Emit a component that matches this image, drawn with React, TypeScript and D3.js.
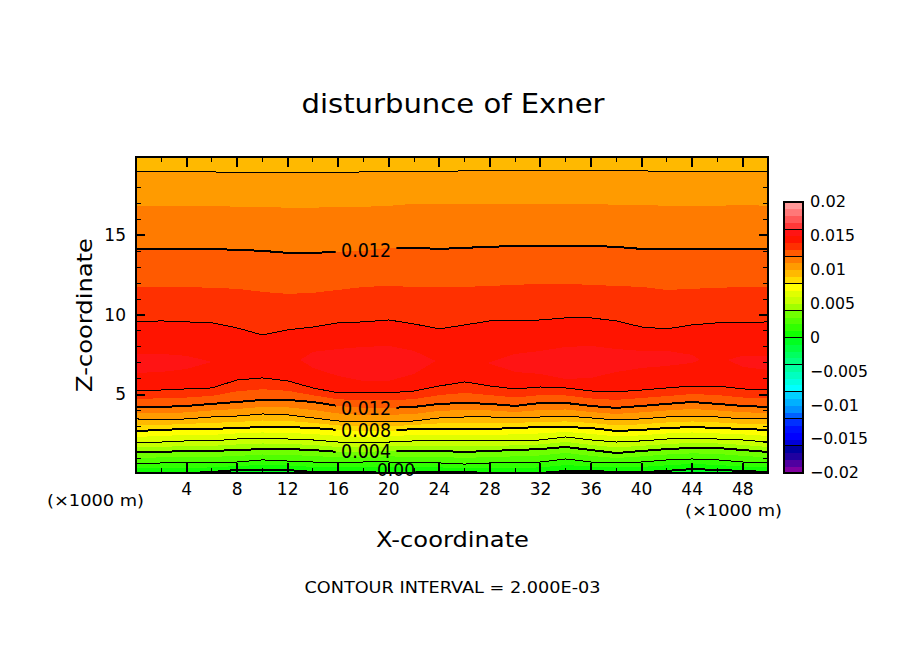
// App.tsx
import React from 'react';
import * as d3 from 'd3';

const xStations = [0, 2, 4, 6, 8, 10, 12, 14, 16, 18, 20, 22, 24, 26, 28, 30, 32, 34, 36, 38, 40, 42, 44, 46, 48, 50];

// contour heights below the Exner maximum (z, in 1000 m)
const low000 = [0.10, 0.10, 0.10, 0.16, 0.29, 0.29, 0.29, 0.16, 0.16, 0.16, 0.16, 0.16, 0.16, 0.16, 0.10, 0.10, 0.10, 0.23, 0.23, 0.16, 0.16, 0.23, 0.35, 0.29, 0.23, 0.16];
const low001 = [0.38, 0.42, 0.42, 0.45, 0.54, 0.60, 0.57, 0.48, 0.45, 0.48, 0.48, 0.45, 0.45, 0.41, 0.42, 0.42, 0.45, 0.60, 0.51, 0.45, 0.48, 0.58, 0.67, 0.60, 0.51, 0.45];
const low002 = [0.66, 0.73, 0.73, 0.73, 0.79, 0.92, 0.85, 0.79, 0.73, 0.79, 0.79, 0.73, 0.73, 0.66, 0.73, 0.73, 0.79, 0.98, 0.79, 0.73, 0.79, 0.92, 0.98, 0.92, 0.79, 0.73];
const low003 = [1.04, 1.08, 1.11, 1.11, 1.17, 1.26, 1.23, 1.17, 1.08, 1.11, 1.14, 1.11, 1.11, 1.04, 1.11, 1.14, 1.20, 1.36, 1.17, 1.04, 1.14, 1.26, 1.33, 1.30, 1.17, 1.08];
const low004 = [1.42, 1.42, 1.48, 1.48, 1.54, 1.60, 1.60, 1.54, 1.42, 1.42, 1.48, 1.48, 1.48, 1.42, 1.48, 1.54, 1.60, 1.73, 1.54, 1.35, 1.48, 1.60, 1.67, 1.67, 1.54, 1.42];
const low005 = [1.70, 1.73, 1.80, 1.80, 1.89, 1.95, 1.92, 1.86, 1.73, 1.70, 1.76, 1.80, 1.80, 1.77, 1.80, 1.83, 1.89, 2.05, 1.86, 1.70, 1.80, 1.92, 1.98, 1.95, 1.86, 1.73];
const low006 = [1.98, 2.04, 2.11, 2.11, 2.23, 2.29, 2.23, 2.17, 2.04, 1.98, 2.04, 2.11, 2.11, 2.11, 2.11, 2.11, 2.17, 2.36, 2.17, 2.04, 2.11, 2.23, 2.29, 2.23, 2.17, 2.04];
const low007 = [2.36, 2.42, 2.49, 2.49, 2.58, 2.64, 2.60, 2.55, 2.42, 2.36, 2.39, 2.49, 2.49, 2.49, 2.49, 2.52, 2.58, 2.67, 2.55, 2.39, 2.46, 2.58, 2.64, 2.58, 2.52, 2.42];
const low008 = [2.73, 2.80, 2.86, 2.86, 2.92, 2.98, 2.98, 2.92, 2.80, 2.73, 2.73, 2.86, 2.86, 2.86, 2.86, 2.92, 2.98, 2.98, 2.92, 2.73, 2.80, 2.92, 2.98, 2.92, 2.86, 2.80];
const low009 = [3.11, 3.11, 3.18, 3.24, 3.30, 3.39, 3.36, 3.24, 3.08, 3.02, 3.02, 3.11, 3.21, 3.24, 3.24, 3.24, 3.30, 3.33, 3.24, 3.08, 3.15, 3.27, 3.33, 3.27, 3.18, 3.15];
const low010 = [3.49, 3.42, 3.49, 3.61, 3.67, 3.80, 3.74, 3.55, 3.36, 3.30, 3.30, 3.36, 3.55, 3.61, 3.61, 3.55, 3.61, 3.67, 3.55, 3.42, 3.49, 3.61, 3.67, 3.61, 3.49, 3.49];
const low011 = [3.87, 3.83, 3.90, 4.02, 4.11, 4.24, 4.21, 4.05, 3.83, 3.74, 3.74, 3.80, 3.99, 4.05, 4.02, 3.92, 4.05, 4.08, 3.92, 3.80, 3.90, 4.02, 4.11, 4.02, 3.90, 3.87];
const low012 = [4.24, 4.24, 4.30, 4.43, 4.55, 4.68, 4.68, 4.55, 4.30, 4.18, 4.18, 4.24, 4.43, 4.49, 4.43, 4.30, 4.49, 4.49, 4.30, 4.18, 4.30, 4.43, 4.55, 4.43, 4.30, 4.24];
const low013 = [4.74, 4.78, 4.83, 4.93, 5.22, 5.35, 5.25, 4.97, 4.72, 4.65, 4.65, 4.73, 4.98, 5.12, 4.98, 4.83, 4.98, 4.96, 4.77, 4.68, 4.80, 4.92, 5.05, 4.98, 4.83, 4.77];
const low014 = [5.24, 5.30, 5.37, 5.43, 5.93, 6.06, 5.87, 5.43, 5.12, 5.12, 5.12, 5.24, 5.55, 5.81, 5.55, 5.37, 5.49, 5.43, 5.24, 5.18, 5.30, 5.43, 5.55, 5.55, 5.37, 5.30];

// contour heights above the maximum
const up014 = [9.57, 9.63, 9.57, 9.51, 9.19, 8.75, 9.07, 9.25, 9.51, 9.57, 9.69, 9.44, 9.13, 9.38, 9.63, 9.63, 9.69, 9.82, 9.82, 9.63, 9.25, 9.13, 9.38, 9.51, 9.51, 9.57];
const up013 = [11.76, 11.76, 11.76, 11.70, 11.64, 11.45, 11.32, 11.39, 11.57, 11.76, 11.82, 11.76, 11.76, 11.76, 11.82, 11.89, 11.95, 11.95, 11.89, 11.82, 11.76, 11.57, 11.64, 11.70, 11.76, 11.76];
const up012 = [14.14, 14.14, 14.14, 14.14, 14.08, 14.02, 13.89, 13.89, 13.96, 14.02, 14.21, 14.21, 14.14, 14.21, 14.27, 14.33, 14.33, 14.33, 14.33, 14.27, 14.14, 14.14, 14.14, 14.14, 14.14, 14.14];
const up011 = [16.84, 16.84, 16.84, 16.84, 16.78, 16.78, 16.72, 16.72, 16.78, 16.78, 16.84, 16.97, 16.97, 16.97, 16.97, 16.97, 16.97, 16.97, 16.97, 16.90, 16.90, 16.84, 16.84, 16.84, 16.90, 16.84];
const up010 = [18.97, 18.97, 18.97, 18.97, 18.91, 18.91, 18.91, 18.91, 18.91, 18.97, 18.97, 18.97, 18.97, 19.04, 19.04, 19.04, 19.04, 19.04, 19.04, 19.04, 19.04, 18.97, 18.97, 18.97, 18.97, 18.97];

// islands above 0.015
const blobAx = [0, 2, 4, 6];
const blobAhi = [7.56, 7.56, 7.44, 7.06];
const blobAlo = [6.37, 6.43, 6.62, 7.06];
const blobBx = [13, 14, 16, 18, 20, 22, 23.7];
const blobBhi = [7.19, 7.69, 7.87, 8.0, 8.06, 7.75, 7.12];
const blobBlo = [7.19, 6.68, 6.18, 5.87, 5.87, 6.31, 7.12];
const blobCx = [27.8, 30, 32, 34, 36, 38, 40, 42, 44, 44.6];
const blobChi = [7.0, 7.56, 7.75, 8.0, 8.06, 7.87, 7.75, 7.75, 7.5, 7.19];
const blobClo = [7.0, 6.43, 6.31, 5.99, 6.06, 6.43, 6.68, 6.81, 7.0, 7.19];
const blobDx = [46.8, 48, 50];
const blobDhi = [7.19, 7.44, 7.44];
const blobDlo = [7.19, 6.75, 6.56];

// one colour per 0.001 cell, from -0.02 up to 0.02
const cellColors = [
  '#8000a0', '#5000a0', '#2000a0', '#0000a0',
  '#0000d8', '#0000ff', '#0010ff', '#0030ff',
  '#0060ff', '#0090ff', '#00b0ff', '#00d0ff',
  '#00ffff', '#00ffe0', '#00ffc0', '#00ffa0',
  '#00ff80', '#00ff60', '#00ff40', '#00ff20',
  '#10ff00', '#30ff00', '#50ff00', '#70ff00',
  '#a0ff00', '#c8ff00', '#e0ff00', '#ffff00',
  '#ffdb00', '#ffb900', '#ff9b00', '#ff7b00',
  '#ff5a00', '#ff3000', '#ff1400', '#ff1414',
  '#ff3838', '#ff5858', '#ff7878', '#ff9898',
];

const xTicks = d3.range(2, 50, 2);
const zTicks = d3.range(1, 20, 1);
const barTicks = ['0.02', '0.015', '0.01', '0.005', '0', '\u22120.005', '\u22120.01', '\u22120.015', '\u22120.02'];
const barValues = [0.02, 0.015, 0.01, 0.005, 0, -0.005, -0.01, -0.015, -0.02];
const barWidths = [36, 45, 36, 45, 10, 58, 49, 58, 49];

const font = '"DejaVu Sans", sans-serif';

const x = d3.scaleLinear().domain([0, 50]).range([136, 768]);
const z = d3.scaleLinear().domain([0.1, 19.9]).range([473, 157]);
const bar = d3.scaleLinear().domain([-0.02, 0.02]).range([473, 202]);

const cell = (v: number) => cellColors[Math.floor((v + 0.02) * 1000 + 1e-6)];

const lineOf = (zs: number[]) =>
  d3.line<number>().x((d) => x(d)).y((_, i) => z(zs[i]))(xStations) as string;

const belowOf = (zs: number[]) =>
  d3.area<number>().x((d) => x(d)).y0(z(0.1)).y1((_, i) => z(zs[i]))(xStations) as string;

const aboveOf = (zs: number[]) =>
  d3.area<number>().x((d) => x(d)).y0(z(19.9)).y1((_, i) => z(zs[i]))(xStations) as string;

const blobOf = (xs: number[], hi: number[], lo: number[]) =>
  d3.area<number>().x((d) => x(d)).y0((_, i) => z(lo[i])).y1((_, i) => z(hi[i]))(xs) as string;

// painted from the maximum outward, each one covering what is beyond it
const lowerBands: [number[], number][] = [
  [low014, 0.0135], [low013, 0.0125], [low012, 0.0115], [low011, 0.0105], [low010, 0.0095],
  [low009, 0.0085], [low008, 0.0075], [low007, 0.0065], [low006, 0.0055], [low005, 0.0045],
  [low004, 0.0035], [low003, 0.0025], [low002, 0.0015], [low001, 0.0005], [low000, -0.0005],
];
const upperBands: [number[], number][] = [
  [up014, 0.0135], [up013, 0.0125], [up012, 0.0115], [up011, 0.0105], [up010, 0.0095],
];
const blobs: [number[], number[], number[]][] = [
  [blobAx, blobAhi, blobAlo], [blobBx, blobBhi, blobBlo], [blobCx, blobChi, blobClo], [blobDx, blobDhi, blobDlo],
];

const thinLines = [low014, low010, low006, low002, up014, up010];
const thickLines = [low012, low008, low004, up012];

const labels: [string, number, number, number][] = [
  ['0.012', 18.2, 14.07, 50],
  ['0.012', 18.2, 4.17, 50],
  ['0.008', 18.2, 2.77, 50],
  ['0.004', 18.2, 1.47, 50],
];

const App: React.FC = () => {
  return (
    <svg width={904} height={654} style={{ position: 'absolute', left: 0, top: 0, background: '#fff' }} fontFamily={font}>
      <defs>
        <clipPath id='plot'>
          <rect x={136} y={157} width={632} height={316} />
        </clipPath>
        <clipPath id='gap'>
          <rect x={136} y={157} width={x(15.8) - 136} height={316} />
          <rect x={x(20.6)} y={157} width={768 - x(20.6)} height={316} />
        </clipPath>
        <clipPath id='gap0'>
          <rect x={136} y={157} width={x(19) - 136} height={316} />
          <rect x={x(22.1)} y={157} width={768 - x(22.1)} height={316} />
        </clipPath>
      </defs>

      <text x={453} y={113} fontSize={27} textAnchor='middle' textLength={303} lengthAdjust='spacingAndGlyphs'>
        disturbunce of Exner
      </text>

      <g clipPath='url(#plot)' shapeRendering='crispEdges'>
        <rect x={136} y={157} width={632} height={316} fill={cell(0.0145)} />
        {upperBands.map(([zs, v], i) => (
          <path key={i} d={aboveOf(zs)} fill={cell(v)} />
        ))}
        {lowerBands.map(([zs, v], i) => (
          <path key={i} d={belowOf(zs)} fill={cell(v)} />
        ))}
        {blobs.map(([xs, hi, lo], i) => (
          <path key={i} d={blobOf(xs, hi, lo)} fill={cell(0.0155)} />
        ))}
        {thinLines.map((zs, i) => (
          <path key={i} d={lineOf(zs)} fill='none' stroke='#000' strokeWidth={1} />
        ))}
        <g clipPath='url(#gap)'>
          {thickLines.map((zs, i) => (
            <path key={i} d={lineOf(zs)} fill='none' stroke='#000' strokeWidth={2} />
          ))}
        </g>
        <g clipPath='url(#gap0)'>
          <path d={lineOf(low000)} fill='none' stroke='#000' strokeWidth={2} />
        </g>
      </g>

      {labels.map(([t, lx, lz, w], i) => (
        <text key={i} x={x(lx)} y={z(lz)} dy='0.36em' fontSize={19} textAnchor='middle' textLength={w} lengthAdjust='spacingAndGlyphs'>
          {t}
        </text>
      ))}
      <text x={396} y={470} dy='0.36em' fontSize={18} textAnchor='middle' textLength={38} lengthAdjust='spacingAndGlyphs'>
        0.00
      </text>

      <g stroke='#000' shapeRendering='crispEdges'>
        {xTicks.map((t) => {
          const len = t % 4 === 0 ? 10 : 5;
          const w = t % 4 === 0 ? 2 : 1;
          return (
            <g key={t} strokeWidth={w}>
              <line x1={x(t)} x2={x(t)} y1={157} y2={157 + len} />
              <line x1={x(t)} x2={x(t)} y1={473} y2={473 - len} />
            </g>
          );
        })}
        {zTicks.map((t) => {
          const len = t % 5 === 0 ? 9 : 5;
          const w = t % 5 === 0 ? 2 : 1;
          return (
            <g key={t} strokeWidth={w}>
              <line x1={136} x2={136 + len} y1={z(t)} y2={z(t)} />
              <line x1={768} x2={768 - len} y1={z(t)} y2={z(t)} />
            </g>
          );
        })}
        <rect x={136} y={157} width={632} height={316} fill='none' strokeWidth={2} />
      </g>

      <g fontSize={17} textAnchor='middle'>
        {xTicks.filter((t) => t % 4 === 0).map((t) => (
          <text key={t} x={x(t)} y={495}>
            {t}
          </text>
        ))}
      </g>
      <g fontSize={17} textAnchor='end'>
        {zTicks.filter((t) => t % 5 === 0).map((t) => (
          <text key={t} x={126} y={z(t)} dy='0.33em'>
            {t}
          </text>
        ))}
      </g>

      <text x={95.5} y={506} fontSize={16} textAnchor='middle' textLength={97} lengthAdjust='spacingAndGlyphs'>
        (×1000 m)
      </text>
      <text x={733.5} y={516} fontSize={16} textAnchor='middle' textLength={97} lengthAdjust='spacingAndGlyphs'>
        (×1000 m)
      </text>
      <text x={452.5} y={547} fontSize={22} textAnchor='middle' textLength={153} lengthAdjust='spacingAndGlyphs'>
        X-coordinate
      </text>
      <text transform='translate(92,315) rotate(-90)' fontSize={22} textAnchor='middle' textLength={154} lengthAdjust='spacingAndGlyphs'>
        Z-coordinate
      </text>
      <text x={452.5} y={593} fontSize={16} textAnchor='middle' textLength={296} lengthAdjust='spacingAndGlyphs'>
        CONTOUR INTERVAL = 2.000E-03
      </text>

      <g shapeRendering='crispEdges'>
        {cellColors.map((c, i) => {
          const v = -0.02 + i * 0.001;
          return <rect key={i} x={784} y={bar(v + 0.001)} width={19} height={bar(v) - bar(v + 0.001) + 0.5} fill={c} />;
        })}
        {d3.range(-0.016, 0.0161, 0.004).map((v) => (
          <line key={v} x1={784} x2={803} y1={bar(v)} y2={bar(v)} stroke='#000' strokeWidth={1} />
        ))}
        <rect x={784} y={202} width={19} height={271} fill='none' stroke='#000' strokeWidth={2} />
      </g>
      <g fontSize={16}>
        {barTicks.map((t, i) => (
          <text key={t} x={810} y={bar(barValues[i])} dy='0.33em' textLength={barWidths[i]} lengthAdjust='spacingAndGlyphs'>
            {t}
          </text>
        ))}
      </g>
    </svg>
  );
};

export default App;
